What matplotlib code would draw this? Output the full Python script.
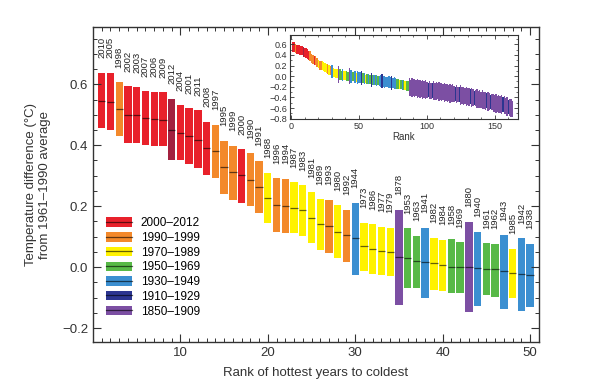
import numpy as np
import matplotlib.pyplot as plt
from matplotlib.patches import Patch
from matplotlib.lines import Line2D
from matplotlib.legend_handler import HandlerTuple
from matplotlib.ticker import MultipleLocator

plt.rcParams['font.family'] = ['Liberation Sans', 'DejaVu Sans']

# 50 hottest years, ranked
years = [2010, 2005, 1998, 2002, 2003, 2007, 2006, 2009, 2012, 2004,
         2001, 2011, 2008, 1997, 1995, 1999, 2000, 1990, 1991, 1988,
         1996, 1994, 1987, 1983, 1981, 1989, 1993, 1980, 1992, 1944,
         1973, 1986, 1977, 1979, 1878, 1953, 1963, 1941, 1982, 1984,
         1958, 1969, 1880, 1940, 1961, 1962, 1943, 1985, 1942, 1938]
median = [0.546, 0.543, 0.518, 0.500, 0.500, 0.490, 0.485, 0.484, 0.450, 0.439,
          0.431, 0.417, 0.390, 0.382, 0.327, 0.313, 0.301, 0.286, 0.263, 0.228,
          0.204, 0.200, 0.195, 0.187, 0.162, 0.140, 0.134, 0.114, 0.104, 0.097,
          0.068, 0.059, 0.054, 0.050, 0.033, 0.029, 0.020, 0.017, 0.014, 0.006,
          0.001, -0.001, -0.001, -0.003, -0.006, -0.007, -0.013, -0.018, -0.022, -0.026]
upper = [0.638, 0.638, 0.606, 0.593, 0.590, 0.577, 0.576, 0.574, 0.553, 0.531,
         0.521, 0.514, 0.477, 0.466, 0.415, 0.399, 0.387, 0.373, 0.349, 0.310,
         0.291, 0.289, 0.278, 0.268, 0.245, 0.223, 0.221, 0.203, 0.189, 0.212,
         0.146, 0.140, 0.132, 0.129, 0.188, 0.127, 0.103, 0.129, 0.097, 0.089,
         0.091, 0.082, 0.148, 0.115, 0.078, 0.076, 0.105, 0.060, 0.094, 0.076]
lower = [0.455, 0.450, 0.429, 0.408, 0.408, 0.402, 0.396, 0.396, 0.351, 0.351,
         0.340, 0.325, 0.302, 0.294, 0.239, 0.220, 0.212, 0.201, 0.179, 0.146,
         0.115, 0.112, 0.113, 0.102, 0.079, 0.057, 0.046, 0.031, 0.016, -0.027,
         -0.013, -0.022, -0.026, -0.029, -0.123, -0.070, -0.070, -0.100, -0.074, -0.079,
         -0.086, -0.086, -0.148, -0.126, -0.093, -0.097, -0.137, -0.101, -0.143, -0.131]

group_names = ['2000–2012', '1990–1999', '1970–1989', '1950–1969',
               '1930–1949', '1910–1929', '1850–1909']
group_starts = [2000, 1990, 1970, 1950, 1930, 1910, 1850]
group_colors = ['#e8212b', '#f3892b', '#fff200', '#58b947',
                '#3b8fd1', '#2c3590', '#7c4fa3']
latest_color = '#a3213f'

# inset: ranks 51-163 (group index, centre, half range)
inset_group = [4, 5, 3, 4, 2, 3, 4, 3, 5, 3,
               4, 3, 4, 3, 4, 4, 5, 4, 4, 4,
               4, 4, 4, 5, 4, 4, 4, 3, 3, 2,
               3, 4, 3, 2, 3, 3,
               6, 6, 6, 6, 6, 6, 6, 6, 6, 6, 6, 6, 6, 6,
               5, 6, 6, 5, 6, 6, 6, 6, 6, 6,
               6, 6, 6, 6, 6, 6, 6, 6, 6, 6,
               5, 6, 6, 5, 6, 6, 6, 6, 6, 6,
               6, 5, 6, 6, 5, 6, 6, 6, 6, 6,
               6, 6, 6, 5, 6, 6, 5, 6, 6, 6,
               6, 6, 6, 6, 6, 5, 6, 6, 6, 5,
               6, 6, 6]
inset_mid = [-0.03, -0.035, -0.04, -0.045, -0.05, -0.05, -0.055, -0.06, -0.065, -0.07,
             -0.07, -0.075, -0.08, -0.085, -0.09, -0.09, -0.095, -0.10, -0.105, -0.11,
             -0.11, -0.115, -0.12, -0.125, -0.13, -0.135, -0.14, -0.145, -0.15, -0.155,
             -0.16, -0.165, -0.17, -0.175, -0.18, -0.19,
             -0.21, -0.215, -0.22, -0.22, -0.225, -0.23, -0.23, -0.235, -0.24, -0.24,
             -0.245, -0.25, -0.25, -0.255,
             -0.26, -0.265, -0.27, -0.27, -0.275, -0.28, -0.28, -0.285, -0.29, -0.29,
             -0.295, -0.30, -0.30, -0.305, -0.31, -0.315, -0.32, -0.32, -0.325, -0.33,
             -0.335, -0.34, -0.345, -0.35, -0.355, -0.36, -0.365, -0.37, -0.375, -0.38,
             -0.385, -0.39, -0.40, -0.405, -0.41, -0.415, -0.42, -0.43, -0.435, -0.44,
             -0.445, -0.45, -0.46, -0.465, -0.47, -0.48, -0.485, -0.49, -0.50, -0.505,
             -0.51, -0.515, -0.52, -0.53, -0.535, -0.54, -0.55, -0.56, -0.57, -0.58,
             -0.59, -0.60, -0.61]
inset_half = [0.10, 0.13, 0.09, 0.10, 0.08, 0.09, 0.10, 0.09, 0.13, 0.09,
              0.10, 0.09, 0.10, 0.09, 0.10, 0.11, 0.13, 0.10, 0.11, 0.10,
              0.10, 0.11, 0.10, 0.13, 0.10, 0.11, 0.10, 0.09, 0.09, 0.08,
              0.09, 0.10, 0.09, 0.08, 0.09, 0.09,
              0.17, 0.15, 0.18, 0.16, 0.17, 0.15, 0.18, 0.16, 0.17, 0.15,
              0.18, 0.16, 0.17, 0.15,
              0.14, 0.17, 0.15, 0.14, 0.18, 0.16, 0.17, 0.15, 0.18, 0.16,
              0.17, 0.15, 0.18, 0.16, 0.17, 0.15, 0.18, 0.16, 0.17, 0.15,
              0.14, 0.17, 0.15, 0.14, 0.18, 0.16, 0.17, 0.15, 0.18, 0.16,
              0.17, 0.14, 0.18, 0.16, 0.14, 0.15, 0.18, 0.16, 0.17, 0.15,
              0.18, 0.16, 0.17, 0.14, 0.18, 0.16, 0.14, 0.15, 0.17, 0.16,
              0.18, 0.15, 0.17, 0.16, 0.18, 0.14, 0.17, 0.15, 0.18, 0.14,
              0.16, 0.17, 0.15]


def group_of(year):
    for i, start in enumerate(group_starts):
        if year >= start:
            return i
    return len(group_starts) - 1


def minus_fmt(v, pos):
    return ('%.1f' % v).replace('-', '\u2212')


ranks = np.arange(1, len(years) + 1)
median = np.array(median)
upper = np.array(upper)
lower = np.array(lower)
colors = [latest_color if y == 2012 else group_colors[group_of(y)] for y in years]

fig = plt.figure(figsize=(6, 3.91), dpi=100)
ax = fig.add_axes([0.155, 0.125, 0.743, 0.806])

w = 0.84
ax.bar(ranks, upper - lower, bottom=lower, width=w, color=colors, linewidth=0)
ax.hlines(median, ranks - w / 2, ranks + w / 2, color='black', alpha=0.6, lw=0.9)
for r, y, top in zip(ranks, years, upper):
    ax.text(r, top + 0.048, str(y), rotation=90, ha='center', va='bottom',
            fontsize=6.8, color='#222222')

ax.set_xlim(0, 51)
ax.set_ylim(-0.246, 0.788)
ax.set_xticks([10, 20, 30, 40, 50])
ax.xaxis.set_minor_locator(MultipleLocator(1))
ax.yaxis.set_major_locator(MultipleLocator(0.2))
ax.yaxis.set_minor_locator(MultipleLocator(0.05))
ax.yaxis.set_major_formatter(plt.FuncFormatter(minus_fmt))
ax.tick_params(which='both', direction='in', top=True, right=True, labelsize=9.5, colors='#333333')
ax.tick_params(which='major', length=6, width=0.8)
ax.tick_params(which='minor', length=3, width=0.7)
for s in ax.spines.values():
    s.set_color('#333333')
    s.set_linewidth(1.0)
ax.set_xlabel('Rank of hottest years to coldest', fontsize=9.5, color='#333333', labelpad=6)
ax.set_ylabel('Temperature difference (°C)\nfrom 1961–1990 average', fontsize=9.5,
              color='#333333', labelpad=8)

handles = [(Patch(color=c, lw=0), Line2D([], [], color='black', alpha=0.6, lw=0.9))
           for c in group_colors]
ax.legend(handles, group_names, loc='upper left', bbox_to_anchor=(0.005, 0.43),
          frameon=False, fontsize=8.5, handlelength=2.2, handleheight=0.85,
          labelspacing=0.23, handletextpad=0.75,
          handler_map={tuple: HandlerTuple(ndivide=1)})

# inset with all years
ins = fig.add_axes([0.483, 0.695, 0.38, 0.215])
all_mid = np.concatenate([median, inset_mid])
all_lo = np.concatenate([lower, np.array(inset_mid) - np.array(inset_half)])
all_hi = np.concatenate([upper, np.array(inset_mid) + np.array(inset_half)])
all_col = colors + [group_colors[g] for g in inset_group]
all_rank = np.arange(1, len(all_mid) + 1)
ins.bar(all_rank, all_hi - all_lo, bottom=all_lo, width=1.0, color=all_col, linewidth=0)
ins.set_xlim(-1, 167)
ins.set_ylim(-0.81, 0.77)
ins.set_xticks([0, 50, 100, 150])
ins.xaxis.set_minor_locator(MultipleLocator(10))
ins.yaxis.set_major_locator(MultipleLocator(0.2))
ins.yaxis.set_minor_locator(MultipleLocator(0.1))
ins.yaxis.set_major_formatter(plt.FuncFormatter(minus_fmt))
ins.tick_params(which='both', direction='in', top=True, right=True, labelsize=6.5,
                colors='#333333', pad=2)
ins.tick_params(which='major', length=3, width=0.6)
ins.tick_params(which='minor', length=1.5, width=0.5)
for s in ins.spines.values():
    s.set_color('#333333')
    s.set_linewidth(0.8)
ins.set_xlabel('Rank', fontsize=7, color='#333333', labelpad=1)

fig.savefig('out.png', dpi=100)
